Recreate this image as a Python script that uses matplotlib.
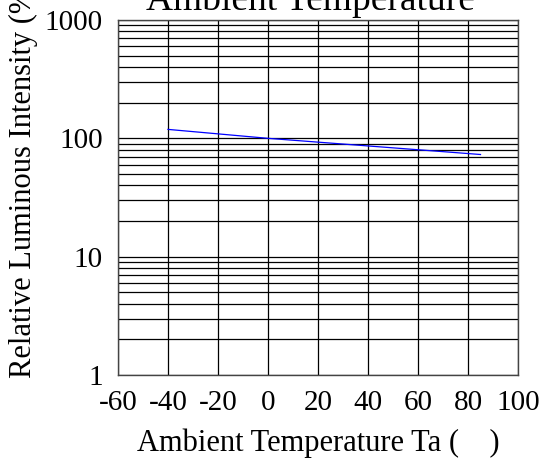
import numpy as np
import matplotlib.pyplot as plt

temps = [-40, 0, 85]
intensity = [119, 100, 73]
x_ticks = [-60, -40, -20, 0, 20, 40, 60, 80, 100]
y_ticks = [1, 10, 100, 1000]

plt.rcParams['font.family'] = ['Liberation Serif', 'DejaVu Serif']

W, H = 543, 463
fig = plt.figure(figsize=(W / 100, H / 100), dpi=100)
ax = fig.add_axes([118 / W, 1 - 375 / H, 400 / W, 355 / H])

ax.plot(temps, intensity, color='blue', lw=0.9)

ax.set_yscale('log')
ax.set_xlim(-60, 100)
ax.set_ylim(1, 1000)
ax.set_xticks(x_ticks)
ax.set_xticklabels([str(t) for t in x_ticks])
ax.set_yticks(y_ticks)
ax.set_yticklabels([str(t) for t in y_ticks])
ax.yaxis.set_minor_formatter(plt.NullFormatter())

ax.grid(True, which='both', axis='y', color='black', lw=0.9)
ax.grid(True, which='major', axis='x', color='black', lw=0.9)
ax.tick_params(which='both', length=0, labelsize=21)
ax.tick_params(axis='x', pad=11)
ax.tick_params(axis='y', pad=11)
for s in ax.spines.values():
    s.set_color('#444444')
    s.set_linewidth(1)

# title sits partly above the image edge, as in the source
fig.text(310 / W, 1 - 10 / H, 'Ambient Temperature',
         ha='center', va='baseline', fontsize=27)
ax.set_xlabel('Ambient Temperature Ta (    )', fontsize=22, labelpad=9)
fig.text(23 / W, 1 - 378 / H, 'Relative Luminous Intensity (%)',
         rotation=90, ha='center', va='bottom', fontsize=22)

fig.savefig('out.png', dpi=100)
